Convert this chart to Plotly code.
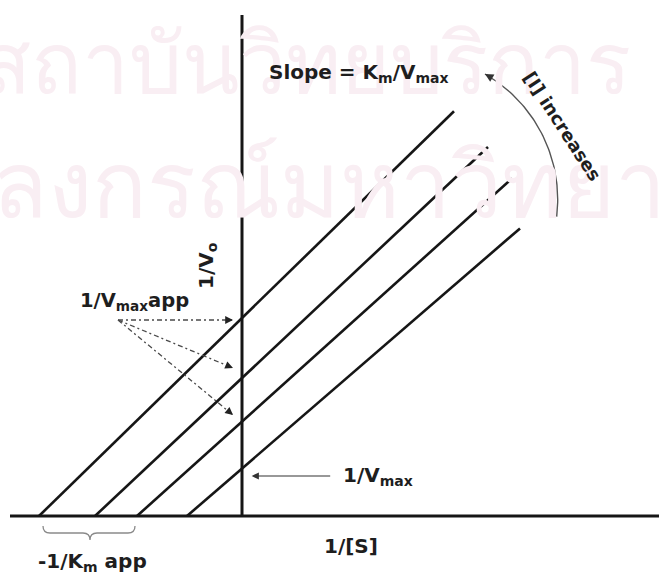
import numpy as np
import plotly.graph_objects as go

W, H = 659, 576

# Lineweaver-Burk lines for an uncompetitive inhibitor at rising [I]
# (top line = highest [I], bottom line = no inhibitor)
series = ["[I] high", "[I] mid", "[I] low", "[I] = 0"]
x_intercept = [-2.03, -1.47, -1.05, -0.55]   # -1/Km app on the 1/[S] axis
y_intercept = [1.98, 1.38, 0.945, 0.475]     # 1/Vmax app on the 1/V0 axis
x_stop = [2.12, 2.46, 2.70, 2.78]            # where each drawn line ends

X_RANGE = [-2.42, 4.17]
Y_RANGE = [-0.60, 5.16]


def fx(px):
    """pixel column -> data x"""
    return X_RANGE[0] + px / W * (X_RANGE[1] - X_RANGE[0])


def fy(py):
    """pixel row -> data y"""
    return Y_RANGE[1] - py / H * (Y_RANGE[1] - Y_RANGE[0])


INK = "#161616"
GREY = "#4a4a4a"
FONT = dict(family="DejaVu Sans", size=20, color="#1e1e1e", weight="bold")

fig = go.Figure()

# faint background lettering
WM = dict(family="Noto Sans, sans-serif", size=84, color="#f9eef3")
fig.add_annotation(x=fx(305), y=fy(60), text="สถาบันวิทยบริการ", showarrow=False, font=WM)
fig.add_annotation(x=fx(300), y=fy(182), text="จุฬาลงกรณ์มหาวิทยาลัย", showarrow=False,
                   font=dict(WM, size=91))

# axes drawn through the origin
fig.add_trace(go.Scatter(x=[fx(10), X_RANGE[1]], y=[0, 0], mode="lines",
                         line=dict(color=INK, width=3), hoverinfo="skip"))
fig.add_trace(go.Scatter(x=[0, 0], y=[0, fy(15)], mode="lines",
                         line=dict(color=INK, width=3), hoverinfo="skip"))

# the four parallel double-reciprocal lines
for name, xi, yi, xs in zip(series, x_intercept, y_intercept, x_stop):
    slope = yi / (-xi)
    fig.add_trace(go.Scatter(x=[xi, xs], y=[0, yi + slope * xs], mode="lines",
                             name=name, line=dict(color=INK, width=2.6)))

# dash-dot pointers from the 1/Vmax app label to the shifted intercepts
origin = (118, 320)
targets = [(233, 320), (233, 368), (233, 415)]
for tx, ty in targets:
    fig.add_trace(go.Scatter(x=[fx(origin[0]), fx(tx)], y=[fy(origin[1]), fy(ty)],
                             mode="lines", hoverinfo="skip",
                             line=dict(color=GREY, width=1.3, dash="5px,3px,2px,3px")))
    d = np.array([tx - origin[0], ty - origin[1]], dtype=float)
    d /= np.hypot(*d)
    fig.add_annotation(x=fx(tx), y=fy(ty), ax=-d[0] * 7, ay=-d[1] * 7, text=" ",
                       showarrow=True, arrowhead=2, arrowsize=1.2, arrowwidth=1.3,
                       arrowcolor="#222", standoff=0, font=dict(size=1))

# curved "[I] increases" arrow
cx, cy, r = 412.7, 199.7, 145.0
th = np.radians(np.linspace(6.7, -60.1, 60))
fig.add_trace(go.Scatter(x=fx(cx + r * np.cos(th)), y=fy(cy + r * np.sin(th)),
                         mode="lines", hoverinfo="skip",
                         line=dict(color="#555", width=1.4)))
t_end = th[-1]
tan = np.array([np.sin(t_end), -np.cos(t_end)])
fig.add_annotation(x=fx(cx + r * np.cos(t_end)), y=fy(cy + r * np.sin(t_end)),
                   ax=-tan[0] * 8, ay=-tan[1] * 8, text=" ", showarrow=True,
                   arrowhead=2, arrowsize=1.3, arrowwidth=1.3, arrowcolor="#333",
                   standoff=0, font=dict(size=1))

# arrow to the uninhibited intercept
fig.add_annotation(x=fx(251.7), y=fy(476), ax=80, ay=0, text=" ", showarrow=True,
                   arrowhead=2, arrowsize=1.2, arrowwidth=1.2, arrowcolor="#333",
                   standoff=0, font=dict(size=1))

# brace under the shifted x-intercepts
bx0, bx1, bm, by0, by1 = 43, 135, 90, 526, 540
byc = 533
pts = [
    ("M", (bx0, by0)), ("Q", (bx0, byc), (bx0 + 7, byc)), ("L", (bm - 7, byc)),
    ("Q", (bm, byc), (bm, by1)), ("Q", (bm, byc), (bm + 7, byc)),
    ("L", (bx1 - 7, byc)), ("Q", (bx1, byc), (bx1, by0)),
]
path = ""
for cmd, *ps in pts:
    path += cmd + " ".join(f"{fx(px):.4f},{fy(py):.4f}" for px, py in ps) + " "
fig.add_shape(type="path", path=path.strip(), line=dict(color="#8a8a8a", width=1.3))

# labels
def label(text, px, py, xanchor="left", angle=0, size=None):
    f = dict(FONT)
    if size:
        f["size"] = size
    fig.add_annotation(x=fx(px), y=fy(py), text=text, showarrow=False,
                       xanchor=xanchor, yanchor="middle", textangle=angle, font=f)


label("Slope = K<sub>m</sub>/V<sub>max</sub>", 267, 73)
label("[I] increases", 563, 126, xanchor="center", angle=57, size=18)
label("1/V<sub>o</sub>", 207, 266, xanchor="center", angle=-90)
label("1/V<sub>max</sub>app", 78, 301, size=19.5)
label("1/V<sub>max</sub>", 341, 476)
label("1/[S]", 351, 546, xanchor="center")
label("-1/K<sub>m</sub> app", 36, 562)

fig.update_layout(
    width=W, height=H,
    margin=dict(l=0, r=0, t=0, b=0),
    paper_bgcolor="white", plot_bgcolor="white",
    showlegend=False,
    xaxis=dict(range=X_RANGE, visible=False, fixedrange=True),
    yaxis=dict(range=Y_RANGE, visible=False, fixedrange=True),
)

fig.write_html("out.html")
